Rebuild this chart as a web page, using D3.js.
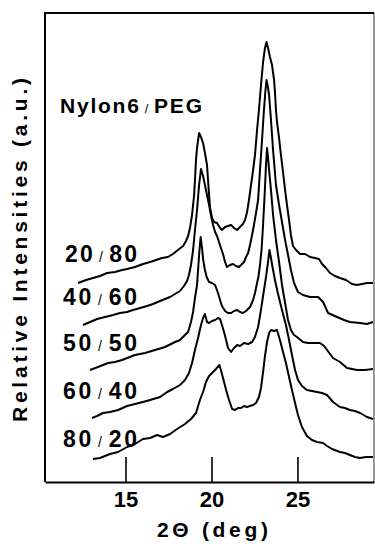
<!DOCTYPE html>
<html>
<head>
<meta charset="utf-8">
<script src="https://cdnjs.cloudflare.com/ajax/libs/d3/7.8.5/d3.min.js"></script>
<style>
body { margin: 0; background: #fff; }
svg { display: block; }
text { font-family: "Liberation Sans", Arial, sans-serif; font-weight: bold; fill: #000; }
</style>
</head>
<body>
<div id="chart"></div>
<script>
///////////////////////////////////
// data (2theta in deg, intensity in a.u.)
///////////////////////////////////
var compositions = ["20/80", "40/60", "50/50", "60/40", "80/20"];
var xTicks = [15, 20, 25];
var thetaExtent = [10.32, 29.45];
var intensityMax = 93.8;

var peg80 = [[12.24,39.8],[12.71,40.4],[13.11,40.8],[13.52,41.2],[13.93,41.8],[14.39,42.0],[14.80,42.4],[15.09,42.6],[15.55,43.0],[16.02,43.6],[16.43,44.0],[16.78,44.4],[17.12,44.8],[17.47,45.0],[17.76,45.6],[18.05,46.4],[18.35,47.2],[18.52,48.2],[18.64,49.2],[18.75,50.8],[18.87,53.4],[18.99,57.4],[19.04,60.4],[19.10,64.4],[19.16,66.8],[19.28,69.8],[19.39,69.0],[19.51,67.8],[19.62,65.8],[19.74,63.4],[19.80,60.4],[19.86,57.4],[19.92,54.8],[20.03,52.8],[20.15,52.0],[20.32,51.8],[20.50,50.8],[20.61,50.4],[20.79,51.0],[20.96,51.2],[21.14,51.4],[21.31,50.8],[21.49,50.4],[21.66,51.0],[21.83,51.6],[21.95,52.4],[22.07,54.0],[22.18,56.4],[22.30,59.4],[22.42,62.4],[22.53,65.4],[22.65,70.4],[22.76,74.4],[22.88,79.4],[23.00,84.0],[23.11,86.8],[23.20,88.0],[23.29,86.8],[23.40,85.0],[23.52,83.4],[23.64,80.4],[23.69,78.0],[23.75,74.4],[23.81,72.0],[23.93,68.8],[24.04,65.4],[24.16,62.0],[24.28,58.4],[24.39,55.4],[24.51,52.4],[24.62,49.4],[24.74,47.2],[24.92,46.4],[25.15,45.6],[25.44,45.6],[25.73,45.0],[26.02,44.8],[26.25,44.6],[26.43,43.6],[26.66,42.8],[26.89,41.8],[27.18,41.2],[27.47,40.8],[27.82,40.4],[28.17,39.6],[28.46,39.4],[28.75,39.6],[29.04,39.8],[29.39,39.8]];

var peg60 = [[12.53,31.4],[12.94,32.0],[13.35,32.6],[13.81,33.0],[14.28,33.4],[14.68,33.8],[15.09,34.0],[15.44,34.4],[15.85,34.8],[16.25,35.2],[16.60,35.6],[17.01,36.2],[17.30,36.6],[17.59,37.0],[17.88,37.6],[18.17,38.2],[18.40,39.2],[18.58,40.2],[18.69,41.4],[18.81,43.4],[18.93,46.4],[19.04,50.4],[19.16,54.4],[19.28,59.4],[19.39,62.6],[19.51,61.2],[19.62,59.4],[19.74,57.4],[19.86,55.4],[19.97,53.4],[20.09,51.4],[20.21,50.0],[20.32,49.2],[20.44,48.0],[20.55,46.8],[20.67,45.6],[20.79,44.0],[20.90,43.0],[21.08,43.4],[21.25,43.6],[21.43,43.2],[21.60,43.0],[21.72,43.4],[21.89,44.0],[22.01,45.0],[22.13,45.8],[22.24,47.4],[22.36,49.4],[22.47,51.4],[22.59,53.8],[22.71,56.4],[22.82,62.4],[22.94,68.4],[23.05,74.4],[23.14,78.4],[23.20,80.4],[23.29,78.8],[23.35,77.4],[23.46,72.4],[23.58,66.4],[23.75,59.4],[23.93,55.4],[24.10,52.0],[24.28,48.4],[24.45,45.4],[24.62,42.4],[24.80,39.8],[25.03,38.0],[25.32,37.4],[25.73,37.0],[26.20,37.0],[26.49,36.0],[26.78,33.8],[27.30,33.0],[27.71,32.4],[28.05,32.0],[28.64,31.8],[29.04,31.6],[29.39,32.0]];

var peg50 = [[12.94,22.4],[13.40,23.0],[13.99,23.8],[14.39,24.0],[14.80,24.4],[15.55,25.4],[16.14,25.8],[16.72,26.4],[17.30,27.0],[17.88,28.0],[18.17,28.4],[18.40,29.2],[18.64,30.0],[18.81,32.0],[18.93,34.0],[19.04,36.8],[19.16,39.4],[19.22,42.4],[19.28,45.4],[19.33,47.4],[19.37,49.0],[19.45,46.8],[19.52,44.4],[19.62,42.4],[19.72,41.0],[19.86,40.0],[20.03,39.8],[20.21,39.4],[20.38,37.8],[20.50,36.4],[20.61,35.2],[20.79,34.2],[20.96,33.8],[21.14,33.8],[21.31,34.2],[21.49,34.4],[21.66,34.0],[21.83,33.8],[22.01,34.2],[22.24,35.0],[22.42,36.4],[22.53,37.8],[22.65,39.8],[22.73,41.0],[22.82,43.4],[22.91,46.4],[23.00,51.4],[23.09,57.4],[23.17,63.4],[23.23,66.8],[23.29,64.8],[23.35,62.4],[23.46,58.4],[23.58,53.4],[23.75,48.4],[23.93,44.0],[24.10,39.4],[24.28,35.8],[24.45,32.4],[24.62,30.4],[24.80,29.4],[24.97,29.0],[25.32,28.0],[25.61,27.8],[25.90,27.8],[26.31,27.8],[26.55,27.2],[26.72,26.4],[27.07,24.8],[27.47,24.0],[27.88,22.8],[28.17,22.6],[28.46,22.4],[28.93,22.4],[29.39,22.6]];

var peg40 = [[13.05,12.8],[13.35,13.2],[13.69,13.8],[14.10,14.0],[14.57,14.4],[15.09,15.2],[15.55,15.6],[16.02,16.0],[16.43,16.4],[17.01,17.0],[17.42,18.0],[17.76,18.6],[18.17,19.4],[18.46,20.4],[18.69,21.8],[18.87,23.8],[19.04,26.4],[19.22,28.8],[19.39,31.4],[19.51,32.8],[19.62,33.6],[19.74,32.0],[19.86,31.8],[20.03,32.2],[20.21,32.4],[20.38,32.8],[20.50,32.6],[20.61,31.4],[20.73,30.0],[20.85,28.4],[20.96,26.8],[21.14,26.0],[21.31,26.8],[21.49,27.4],[21.66,27.2],[21.89,27.8],[22.13,27.6],[22.36,28.0],[22.53,29.0],[22.71,31.0],[22.82,33.2],[23.00,37.2],[23.17,41.0],[23.29,44.0],[23.37,46.4],[23.46,44.8],[23.55,43.0],[23.69,40.4],[23.87,37.6],[24.10,34.4],[24.33,31.4],[24.51,28.4],[24.68,25.4],[24.86,22.4],[25.03,20.4],[25.26,19.2],[25.55,18.4],[25.84,18.2],[26.14,18.0],[26.43,17.8],[26.72,17.4],[27.07,16.0],[27.47,15.0],[27.76,14.8],[28.05,14.4],[28.34,14.2],[28.64,13.8],[29.04,13.0],[29.39,12.6]];

var peg20 = [[13.11,4.6],[13.52,4.8],[14.10,5.6],[14.57,6.0],[15.09,7.0],[15.55,7.6],[16.02,8.6],[16.43,8.8],[16.84,9.4],[17.18,9.0],[17.59,9.6],[18.00,10.6],[18.46,11.6],[18.81,12.6],[19.10,13.8],[19.33,16.4],[19.51,18.0],[19.68,20.0],[19.86,21.2],[20.09,22.0],[20.26,22.6],[20.46,23.4],[20.55,22.4],[20.67,20.8],[20.85,18.4],[21.02,16.4],[21.20,14.6],[21.37,14.4],[21.54,14.8],[21.72,14.8],[21.89,15.2],[22.07,15.0],[22.24,15.2],[22.42,15.4],[22.59,15.8],[22.76,17.0],[22.88,18.8],[23.00,22.0],[23.11,25.2],[23.23,28.0],[23.35,29.8],[23.46,30.4],[23.64,30.2],[23.81,30.4],[23.98,28.4],[24.16,26.0],[24.33,23.8],[24.51,21.0],[24.68,18.4],[24.86,15.8],[25.03,13.4],[25.26,11.0],[25.55,9.2],[25.84,8.4],[26.14,8.0],[26.49,7.8],[26.72,7.2],[27.01,6.6],[27.47,6.0],[27.76,5.8],[28.05,5.4],[28.34,5.0],[28.64,4.8],[28.99,5.0],[29.39,5.0]];

// intensity level of each composition label baseline
var labelLevels = [44.0, 35.4, 26.2, 16.7, 7.0];

///////////////////////////////////
// plot
///////////////////////////////////
var Xrd_Plot = function(opt) {
  this.series = opt.series;
  this.labels = opt.labels;
  this.element = opt.element;
  this.width = opt.width;
  this.height = opt.height;
  this.margin = opt.margin;
  this.draw();
};

Xrd_Plot.prototype.draw = function() {
  this.svg = d3.select(this.element).append('svg')
    .attr('width', this.width)
    .attr('height', this.height);

  this.generateXScale();
  this.generateYScale();
  this.addFrame();
  this.addAxis();
  this.generateLines();
  this.addLabels();
};

Xrd_Plot.prototype.generateXScale = function() {
  this.xScale = d3.scaleLinear()
    .domain(thetaExtent)
    .range([this.margin.left, this.width - this.margin.right]);
};

Xrd_Plot.prototype.generateYScale = function() {
  this.yScale = d3.scaleLinear()
    .domain([0, intensityMax])
    .range([this.height - this.margin.bottom, this.margin.top]);
};

Xrd_Plot.prototype.addFrame = function() {
  var x0 = this.margin.left, x1 = this.width - this.margin.right;
  var y0 = this.margin.top, y1 = this.height - this.margin.bottom;

  this.svg.append('path')
    .attr('d', 'M' + x0 + ',' + y1 + 'V' + y0 + 'H' + x1)
    .attr('fill', 'none')
    .attr('stroke', '#000')
    .attr('stroke-width', 2);

  this.svg.append('line')
    .attr('x1', x1).attr('x2', x1)
    .attr('y1', y0).attr('y2', y1)
    .attr('stroke', '#000')
    .attr('stroke-opacity', 0.55)
    .attr('stroke-width', 1.5);
};

Xrd_Plot.prototype.addAxis = function() {
  var xAxis = d3.axisBottom(this.xScale)
    .tickValues(xTicks)
    .tickSizeInner(-25)
    .tickSizeOuter(0)
    .tickFormat(d3.format('d'));

  var g = this.svg.append('g')
    .attr('class', 'x-axis')
    .attr('transform', 'translate(0,' + (this.height - this.margin.bottom) + ')')
    .call(xAxis);

  g.attr('font-family', null).attr('font-size', null);
  g.select('.domain').attr('stroke-width', 2.2);
  g.selectAll('.tick line').attr('stroke-width', 1.6);
  g.selectAll('.tick text')
    .attr('y', 25)
    .attr('dy', 0)
    .style('font-size', '22px');

  // axis titles
  this.svg.append('text')
    .attr('x', 212.5)
    .attr('y', 537)
    .attr('text-anchor', 'middle')
    .attr('textLength', 111)
    .attr('lengthAdjust', 'spacing')
    .style('font-size', '21px')
    .text('2\u0398 (deg)');

  this.svg.append('text')
    .attr('transform', 'translate(27,250) rotate(-90)')
    .attr('text-anchor', 'middle')
    .attr('textLength', 344)
    .attr('lengthAdjust', 'spacing')
    .style('font-size', '21px')
    .text('Relative Intensities (a.u.)');
};

Xrd_Plot.prototype.generateLines = function() {
  var that = this;
  var line = d3.line()
    .x(function(d) { return that.xScale(d[0]); })
    .y(function(d) { return that.yScale(d[1]); });

  this.svg.append('g')
    .attr('class', 'patterns')
    .selectAll('path')
    .data(this.series)
    .enter().append('path')
    .attr('d', line)
    .attr('fill', 'none')
    .attr('stroke', '#000')
    .attr('stroke-width', 2)
    .attr('stroke-linejoin', 'round');
};

Xrd_Plot.prototype.slashText = function(sel, str, size) {
  var parts = str.split('/');
  sel.append('tspan').text(parts[0]);
  sel.append('tspan')
    .attr('dx', 4)
    .style('font-size', size + 'px')
    .style('font-weight', 'normal')
    .text('/');
  sel.append('tspan').attr('dx', 4).text(parts[1]);
};

Xrd_Plot.prototype.addLabels = function() {
  var that = this;

  var title = this.svg.append('text')
    .attr('x', 60)
    .attr('y', 113)
    .attr('textLength', 142)
    .attr('lengthAdjust', 'spacing')
    .style('font-size', '21px');
  this.slashText(title, 'Nylon6/PEG', 13);

  this.labels.forEach(function(lab, i) {
    var t = that.svg.append('text')
      .attr('x', i === 0 ? 65 : 63)
      .attr('y', that.yScale(labelLevels[i]))
      .attr('textLength', i === 0 ? 72 : 74)
      .attr('lengthAdjust', 'spacing')
      .style('font-size', '23px');
    that.slashText(t, lab, 14);
  });
};

new Xrd_Plot({
  element: '#chart',
  width: 375,
  height: 544,
  margin: { top: 13, right: 1, bottom: 62, left: 45 },
  series: [peg80, peg60, peg50, peg40, peg20],
  labels: compositions
});
</script>
</body>
</html>
